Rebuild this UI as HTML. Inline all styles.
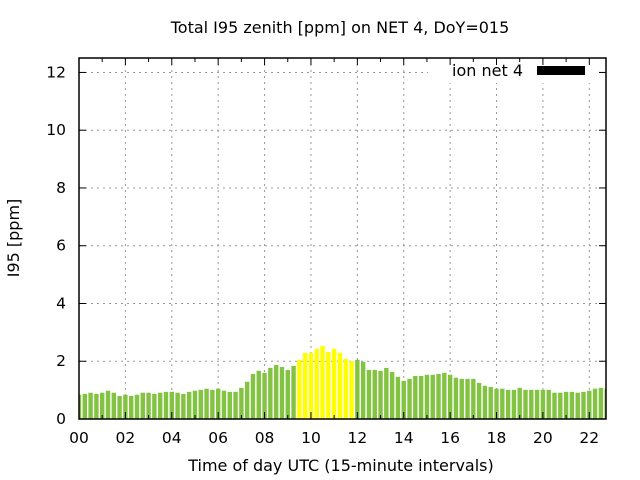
<!DOCTYPE html>
<html><head><meta charset="utf-8"><style>
body{margin:0;background:#fff;}
svg{display:block;font-family:"DejaVu Sans","Liberation Sans",sans-serif;}
</style></head><body>
<svg id="chart" width="640" height="480">
<rect width="640" height="480" fill="#fff"/>
<text x="340" y="33" text-anchor="middle" font-size="16">Total I95 zenith [ppm] on NET 4, DoY=015</text>
<text x="341" y="471" text-anchor="middle" font-size="16">Time of day UTC (15-minute intervals)</text>
<text transform="translate(19,238) rotate(-90)" text-anchor="middle" font-size="16">I95 [ppm]</text>
<g id="grid"></g>
<clipPath id="clip"><rect x="79" y="58" width="527" height="361"/></clipPath>
<g id="bars" clip-path="url(#clip)"></g>
<g id="legend">
<rect x="428" y="59" width="170" height="24" fill="#fff"/>
<text x="523" y="76" text-anchor="end" font-size="16">ion net 4</text>
<rect x="537" y="66" width="48" height="9" fill="#000"/>
</g>
<rect x="79" y="58" width="527" height="361" fill="none" stroke="#000" stroke-width="1.5"/>
<g id="ticks"></g>
</svg>
<script>
const values = [0.84,0.87,0.91,0.87,0.91,0.98,0.91,0.80,0.84,0.80,0.84,0.91,0.91,0.87,0.91,0.94,0.94,0.91,0.87,0.94,0.98,1.01,1.05,1.01,1.05,0.98,0.94,0.94,1.08,1.29,
1.56,1.67,1.60,1.77,1.87,1.80,1.70,1.84,2.05,2.29,2.29,2.43,2.53,2.32,2.43,2.29,2.08,2.01,2.05,1.98,1.70,1.70,1.67,1.77,1.63,1.46,1.32,1.39,1.49,1.49,
1.53,1.53,1.56,1.60,1.53,1.43,1.39,1.39,1.39,1.25,1.15,1.11,1.05,1.05,1.01,1.01,1.08,1.01,1.01,1.01,1.01,1.01,0.91,0.91,0.94,0.94,0.91,0.94,0.98,1.05,1.08,1.05];
const highlight = [38,39,40,41,42,43,44,45,46,47];
const xTicks = ["00","02","04","06","08","10","12","14","16","18","20","22"];
const yTicks = [0,2,4,6,8,10,12];
const X0=79,X1=606,Y0=419,Y1=58,XMAX=22.72,YMAX=12.5;
const sx=h=>X0+h/XMAX*(X1-X0);
const sy=v=>Y0-v/YMAX*(Y0-Y1);
const NS="http://www.w3.org/2000/svg";
function mk(t,a,p){const e=document.createElementNS(NS,t);for(const k in a)e.setAttribute(k,a[k]);p.appendChild(e);return e;}
const grid=document.getElementById('grid'),bars=document.getElementById('bars'),ticks=document.getElementById('ticks');
xTicks.forEach((l,i)=>{const x=sx(i*2);
 if(i>0){const g=mk('line',{x1:x,x2:x,y1:Y1,y2:Y0,stroke:'#999','stroke-dasharray':'2,4'},grid);
 
 }
 mk('line',{x1:x,x2:x,y1:Y0,y2:Y0-7,stroke:'#000'},ticks);
 mk('line',{x1:x,x2:x,y1:Y1,y2:Y1+7,stroke:'#000'},ticks);
 const t=mk('text',{x:x,y:443,'text-anchor':'middle','font-size':15.5},ticks);t.textContent=l;
 
 
});
for(let h=1;h<XMAX;h+=2){const x=sx(h);mk('line',{x1:x,x2:x,y1:Y0,y2:Y0-4,stroke:'#000'},ticks);mk('line',{x1:x,x2:x,y1:Y1,y2:Y1+4,stroke:'#000'},ticks);}
yTicks.forEach(v=>{const y=sy(v);
 if(v>0){const g=mk('line',{x1:X0,x2:X1,y1:y,y2:y,stroke:'#999','stroke-dasharray':'2,4'},grid);
 
 }
 mk('line',{x1:X0,x2:X0+7,y1:y,y2:y,stroke:'#000'},ticks);
 mk('line',{x1:X1,x2:X1-7,y1:y,y2:y,stroke:'#000'},ticks);
 const t=mk('text',{x:66,y:y+5,'text-anchor':'end','font-size':15.5},ticks);t.textContent=v;
 
 
});
const bw=sx(0.19)-sx(0);
values.forEach((v,i)=>{const c=sx(i*0.25);
 const r=mk('rect',{x:c-bw/2,y:sy(v),width:bw,height:Y0-sy(v),fill:highlight.includes(i)?'#ffff00':'#82c341'},bars);
 
 
});
</script>
</body></html>
